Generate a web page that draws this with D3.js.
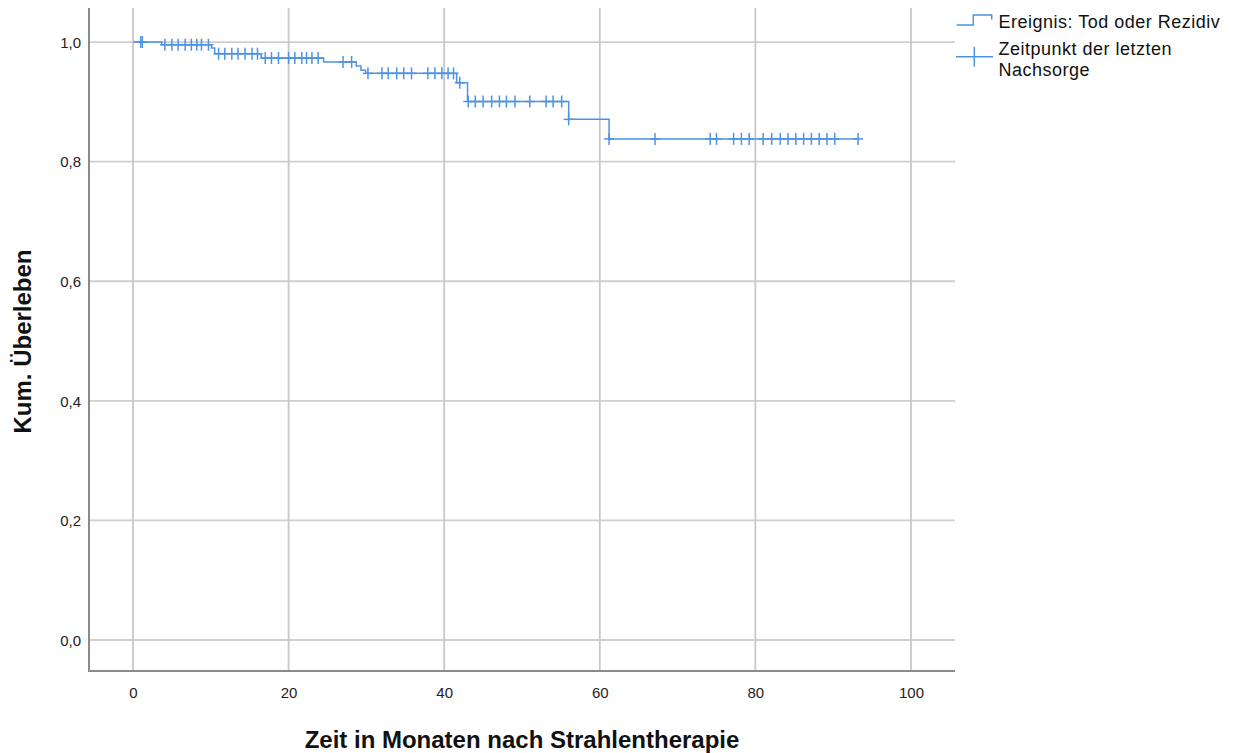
<!DOCTYPE html>
<html>
<head>
<meta charset="utf-8">
<script src="https://cdn.jsdelivr.net/npm/d3@7/dist/d3.min.js"></script>
<style>
  html, body { margin: 0; padding: 0; background: #fff; }
  svg { display: block; font-family: "Liberation Sans", Arial, sans-serif; }
</style>
</head>
<body>
<svg id="chart" width="1234" height="753"></svg>
<script>
// Kaplan-Meier: event times and survival level after each event
const eventTimes  = [3.7, 10.1, 10.5, 16.5, 24.5, 28.7, 29.3, 29.9, 41.6, 43.0, 56.0, 61.2];
const eventLevels = [0.9955, 0.990, 0.9805, 0.9732, 0.9668, 0.960, 0.953, 0.9476, 0.932, 0.9005, 0.8707, 0.838];
// censored observations (months)
const censorTimes = [1.0, 1.2, 4.1, 5.0, 5.8, 6.7, 7.5, 8.2, 8.8, 9.7,
  11.0, 11.8, 12.7, 13.5, 14.4, 15.3, 16.0, 17.0, 17.8, 18.7, 20.0, 20.8, 21.7, 22.3, 23.0, 23.8,
  27.0, 28.1, 30.2, 32.0, 32.8, 33.9, 34.8, 35.8, 37.9, 38.8, 39.7, 40.5, 41.2, 42.0, 43.1,
  44.0, 45.0, 46.1, 47.1, 48.0, 49.1, 51.0, 53.1, 54.0, 55.1, 56.0, 61.2, 67.1,
  74.2, 75.0, 77.2, 78.2, 79.2, 81.0, 82.1, 83.2, 84.2, 85.2, 86.2, 87.2, 88.2, 89.2, 90.2, 93.2];
const lastTime = 93.2;
const xTicks = [0, 20, 40, 60, 80, 100];
const yTicks = [0, 0.2, 0.4, 0.6, 0.8, 1.0];
const legendLabels = ["Ereignis: Tod oder Rezidiv", "Zeitpunkt der letzten", "Nachsorge"];
const xTitle = "Zeit in Monaten nach Strahlentherapie";
const yTitle = "Kum. Überleben";

const svg = d3.select("#chart");
const L = 89, R = 955, T = 8, B = 671;
const x = d3.scaleLinear().domain([-5.656, 105.66]).range([L, R]);
const y = d3.scaleLinear().domain([-0.0518, 1.0569]).range([B, T]);
const blue = "#4e92e3";

function survAt(t) {
  let s = 1;
  for (let i = 0; i < eventTimes.length; i++) if (eventTimes[i] <= t) s = eventLevels[i];
  return s;
}

// gridlines
const g = svg.append("g");
g.selectAll(".hg").data(yTicks).enter().append("line")
  .attr("x1", L).attr("x2", R).attr("y1", d => y(d)).attr("y2", d => y(d))
  .attr("stroke", "#cfcfcf").attr("stroke-width", 1.8);
g.selectAll(".vg").data(xTicks).enter().append("line")
  .attr("x1", d => x(d)).attr("x2", d => x(d)).attr("y1", T).attr("y2", B)
  .attr("stroke", "#c8c8c8").attr("stroke-width", 1.8);

// axes (labels via d3 axis)
const xAxis = d3.axisBottom(x).tickValues(xTicks).tickSize(0).tickPadding(0).tickFormat(d3.format("d"));
const gx = svg.append("g").attr("transform", `translate(0,${B})`).call(xAxis);
gx.select(".domain").remove();
gx.selectAll("text").attr("dy", null).attr("y", 27).attr("font-size", 15)
  .attr("font-family", "Liberation Sans, Arial, sans-serif").attr("fill", "#222");

const yAxis = d3.axisLeft(y).tickValues(yTicks).tickSize(0).tickPadding(0)
  .tickFormat(d => d3.format(".1f")(d).replace(".", ","));
const gy = svg.append("g").attr("transform", `translate(${L},0)`).call(yAxis);
gy.select(".domain").remove();
gy.selectAll("text").attr("x", -8).attr("dy", "0.35em").attr("font-size", 15)
  .attr("font-family", "Liberation Sans, Arial, sans-serif").attr("fill", "#222");

svg.append("line").attr("x1", L).attr("x2", L).attr("y1", T).attr("y2", B + 1)
  .attr("stroke", "#8a8a8a").attr("stroke-width", 2);
svg.append("line").attr("x1", L).attr("x2", R).attr("y1", B).attr("y2", B)
  .attr("stroke", "#8a8a8a").attr("stroke-width", 2);

// survival step curve
const pts = [[0, 1]];
eventTimes.forEach((t, i) => pts.push([t, eventLevels[i]]));
pts.push([lastTime, eventLevels[eventLevels.length - 1]]);
const line = d3.line().x(d => x(d[0])).y(d => y(d[1])).curve(d3.curveStepAfter);
svg.append("path").attr("d", line(pts)).attr("fill", "none")
  .attr("stroke", blue).attr("stroke-width", 1.5);

// censor marks
const cm = svg.append("g").attr("stroke", blue).attr("stroke-width", 1.5);
censorTimes.forEach(t => {
  const cx = x(t), cy = y(survAt(t));
  cm.append("line").attr("x1", cx).attr("x2", cx).attr("y1", cy - 6).attr("y2", cy + 6);
  cm.append("line").attr("x1", cx - 5).attr("x2", cx + 5).attr("y1", cy).attr("y2", cy);
});

// axis titles
svg.append("text").attr("x", (L + R) / 2).attr("y", 748).attr("text-anchor", "middle")
  .attr("font-size", 24).attr("font-weight", "bold").attr("fill", "#111").text(xTitle);
svg.append("text").attr("transform", `translate(31,${(T + B) / 2 + 2}) rotate(-90)`)
  .attr("text-anchor", "middle").attr("font-size", 24).attr("font-weight", "bold")
  .attr("fill", "#111").text(yTitle);

// legend
const lg = svg.append("g");
lg.append("path").attr("d", "M956.7,25H973.3V15H991.7V19.5").attr("fill", "none")
  .attr("stroke", blue).attr("stroke-width", 1.5);
lg.append("line").attr("x1", 956).attr("x2", 993).attr("y1", 56.7).attr("y2", 56.7)
  .attr("stroke", blue).attr("stroke-width", 1.5);
lg.append("line").attr("x1", 974.3).attr("x2", 974.3).attr("y1", 46.7).attr("y2", 66.7)
  .attr("stroke", blue).attr("stroke-width", 1.5);
const lys = [28.3, 54.5, 75.5];
legendLabels.forEach((s, i) => {
  lg.append("text").attr("x", 998.5).attr("y", lys[i]).attr("font-size", 18)
    .attr("letter-spacing", 0.5).attr("fill", "#111").text(s);
});
</script>
</body>
</html>
